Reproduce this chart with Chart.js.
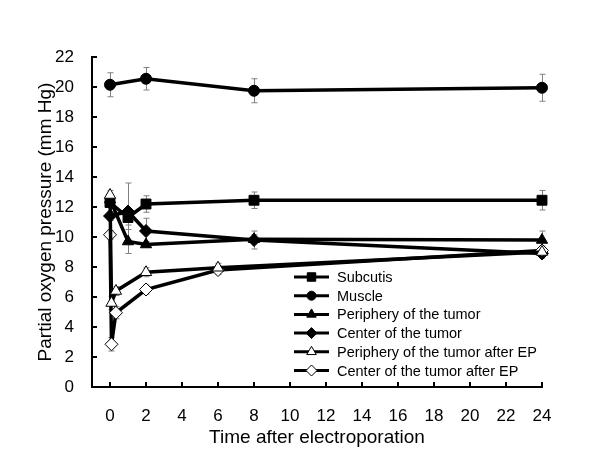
<!DOCTYPE html>
<html>
<head>
<meta charset="utf-8">
<script src="https://cdn.jsdelivr.net/npm/chart.js@4/dist/chart.umd.min.js"></script>
<style>
html,body{margin:0;padding:0;background:#fff;}
#wrap{width:600px;height:461px;position:relative;}
</style>
</head>
<body>
<div id="wrap"><canvas id="c" width="600" height="461"></canvas></div>
<script>
// ---- data ----
const seriesNames = ["Subcutis","Muscle","Periphery of the tumor","Center of the tumor","Periphery of the tumor after EP","Center of the tumor after EP"];
const timesTissue = [0, 1, 2, 8, 24];
const timesMuscle = [0, 2, 8, 24];
const timesEP = [0, 0.083, 0.33, 2, 6, 24];

const subcutis = [12.3, 11.3, 12.2, 12.45, 12.45];
const subcutisErr = [0.3, 0.5, 0.55, 0.55, 0.65];
const muscle = [20.15, 20.55, 19.75, 19.95];
const muscleErr = [0.8, 0.75, 0.8, 0.9];
const periphery = [12.5, 9.7, 9.5, 9.85, 9.8];
const peripheryErr = [0.3, 0.8, 0.2, 0.3, 0.6];
const center = [11.4, 11.7, 10.4, 9.8, 8.9];
const centerErr = [0.3, 1.9, 0.85, 0.6, 0.3];
const peripheryEP = [12.8, 5.6, 6.4, 7.65, 7.95, 9.0];
const peripheryEPErr = [0.3, 0.45, 0.3, 0.3, 0.3, 0.3];
const centerEP = [10.15, 2.85, 4.95, 6.5, 7.8, 9.1];
const centerEPErr = [0.3, 0.45, 0.4, 0.3, 0.3, 0.3];

const xTicks = [0,2,4,6,8,10,12,14,16,18,20,22,24];
const yTicks = [0,2,4,6,8,10,12,14,16,18,20,22];

const FONT = "'Liberation Sans', Arial, sans-serif";

function pts(xs, ys){ return xs.map((x,i)=>({x:x, y:ys[i]})); }

const styles = [
  {pointStyle:'rect', r:7, fill:'#000', lr:6},
  {pointStyle:'circle', r:5.5, fill:'#000', lr:4.5},
  {pointStyle:'triangle', r:6.5, fill:'#000', lr:5.5},
  {pointStyle:'rectRot', r:6.5, fill:'#000', lr:5.5},
  {pointStyle:'triangle', r:6.5, fill:'#fff', lr:5.5},
  {pointStyle:'rectRot', r:6.5, fill:'#fff', lr:5.5}
];
const seriesData = [
  [timesTissue, subcutis, subcutisErr],
  [timesMuscle, muscle, muscleErr],
  [timesTissue, periphery, peripheryErr],
  [timesTissue, center, centerErr],
  [timesEP, peripheryEP, peripheryEPErr],
  [timesEP, centerEP, centerEPErr]
];
const orders = [2, 3, 4, 1, 0, 0];

const datasets = seriesData.map((s, i) => ({
  label: seriesNames[i],
  data: pts(s[0], s[1]),
  errors: s[2],
  borderColor: '#000',
  borderWidth: 3.5,
  backgroundColor: styles[i].fill,
  pointStyle: styles[i].pointStyle,
  pointRadius: styles[i].r,
  pointHoverRadius: styles[i].r,
  pointBackgroundColor: styles[i].fill,
  pointBorderColor: '#000',
  pointBorderWidth: 1,
  tension: 0,
  clip: false,
  order: orders[i]
}));

const customPlugin = {
  id: 'custom',
  beforeDatasetsDraw(chart){
    const ctx = chart.ctx, xs = chart.scales.x, ys = chart.scales.y;
    ctx.save();
    ctx.strokeStyle = '#808080';
    ctx.lineWidth = 1;
    chart.data.datasets.forEach(ds => {
      ds.data.forEach((p, j) => {
        const e = ds.errors[j];
        const px = Math.round(xs.getPixelForValue(p.x)) + 0.5;
        const y1 = ys.getPixelForValue(p.y + e), y2 = ys.getPixelForValue(p.y - e);
        ctx.beginPath();
        ctx.moveTo(px, y1); ctx.lineTo(px, y2);
        ctx.moveTo(px - 3, y1); ctx.lineTo(px + 3, y1);
        ctx.moveTo(px - 3, y2); ctx.lineTo(px + 3, y2);
        ctx.stroke();
      });
    });
    ctx.restore();
  },
  afterDraw(chart){
    const ctx = chart.ctx, xs = chart.scales.x, ys = chart.scales.y, a = chart.chartArea;
    ctx.save();
    ctx.strokeStyle = '#000';
    ctx.lineWidth = 2;
    ctx.beginPath();
    yTicks.forEach(v => { const y = Math.round(ys.getPixelForValue(v)); ctx.moveTo(a.left, y); ctx.lineTo(a.left + 5, y); });
    xTicks.forEach(v => { const x = Math.round(xs.getPixelForValue(v)); ctx.moveTo(x, a.bottom); ctx.lineTo(x, a.bottom - 5); });
    ctx.stroke();
    // legend
    const lx0 = 294, lx1 = 329, mx = 311.5, tx = 337, y0 = 277, dy = 18.7;
    ctx.font = '14.5px ' + FONT;
    ctx.textBaseline = 'middle';
    ctx.textAlign = 'left';
    seriesNames.forEach((name, i) => {
      const y = y0 + i * dy;
      ctx.strokeStyle = '#000';
      ctx.lineWidth = 3;
      ctx.beginPath(); ctx.moveTo(lx0, y); ctx.lineTo(lx1, y); ctx.stroke();
      ctx.fillStyle = styles[i].fill;
      ctx.strokeStyle = '#000';
      ctx.lineWidth = 1;
      Chart.helpers.drawPoint(ctx, {pointStyle: styles[i].pointStyle, radius: styles[i].lr, rotation: 0, borderWidth: 1}, mx, y);
      ctx.fillStyle = '#000';
      ctx.fillText(name, tx, y + 1);
    });
    ctx.restore();
  }
};

new Chart(document.getElementById('c'), {
  type: 'line',
  data: { datasets: datasets },
  options: {
    responsive: false,
    animation: false,
    devicePixelRatio: 1,
    layout: { padding: { left: 0, right: 58, top: 57, bottom: 0 } },
    plugins: { legend: { display: false }, tooltip: { enabled: false } },
    scales: {
      x: {
        type: 'linear', min: -1, max: 24,
        afterBuildTicks: s => { s.ticks = xTicks.map(v => ({value: v})); },
        afterFit: s => { s.height = 74; },
        grid: { display: false },
        border: { display: true, color: '#000', width: 2 },
        ticks: { color: '#000', font: { family: FONT, size: 17 }, padding: 11, maxRotation: 0, autoSkip: false },
        title: { display: true, text: 'Time after electroporation', color: '#000', font: { family: FONT, size: 19 }, padding: { top: 0, bottom: 12 } }
      },
      y: {
        type: 'linear', min: 0, max: 22,
        afterBuildTicks: s => { s.ticks = yTicks.map(v => ({value: v})); },
        afterFit: s => { s.width = 92; },
        grid: { display: false },
        border: { display: true, color: '#000', width: 2 },
        ticks: { color: '#000', font: { family: FONT, size: 17 }, padding: 10, autoSkip: false },
        title: { display: true, text: 'Partial oxygen pressure (mm Hg)', color: '#000', font: { family: FONT, size: 19 }, padding: { top: 34, bottom: 0 } }
      }
    }
  },
  plugins: [customPlugin]
});
</script>
</body>
</html>
